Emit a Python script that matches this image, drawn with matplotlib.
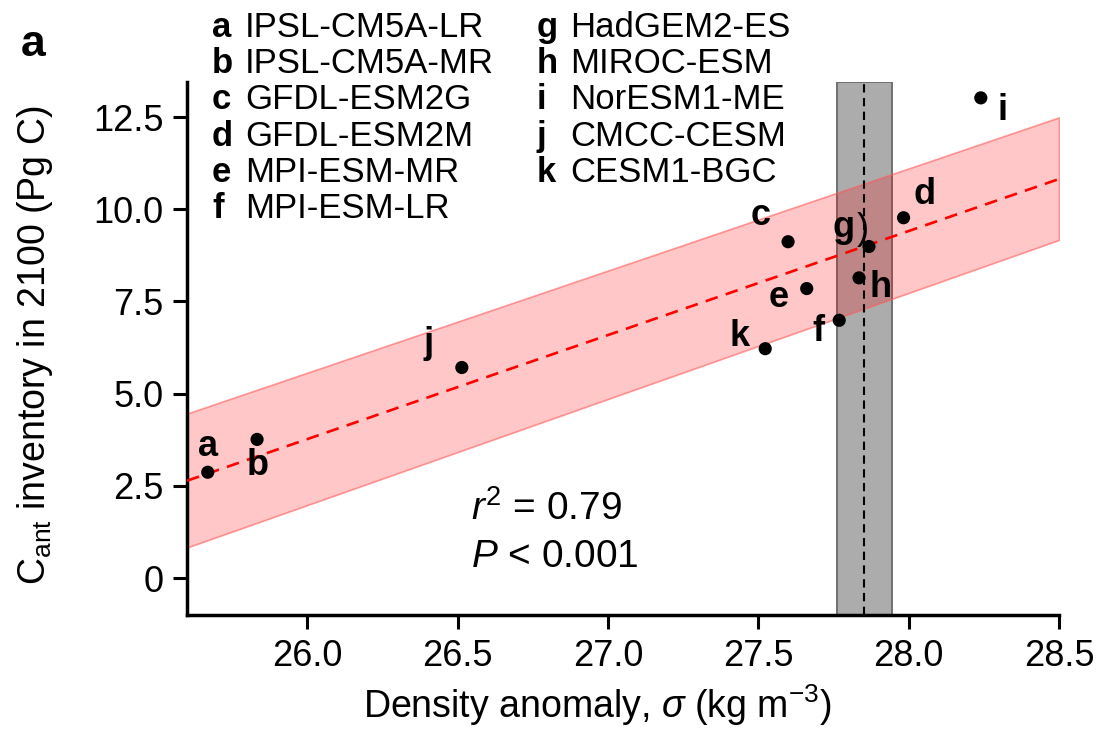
import numpy as np
import matplotlib
matplotlib.use("Agg")
import matplotlib.pyplot as plt

plt.rcParams['font.family'] = ['Liberation Sans', 'DejaVu Sans']
plt.rcParams['mathtext.fontset'] = 'custom'
plt.rcParams['mathtext.rm'] = 'Liberation Sans'
plt.rcParams['mathtext.it'] = 'Liberation Sans:italic'

# --- data ---
letters = ['a', 'b', 'c', 'd', 'e', 'f', 'g', 'h', 'i', 'j', 'k']
models = ['IPSL-CM5A-LR', 'IPSL-CM5A-MR', 'GFDL-ESM2G', 'GFDL-ESM2M', 'MPI-ESM-MR',
          'MPI-ESM-LR', 'HadGEM2-ES', 'MIROC-ESM', 'NorESM1-ME', 'CMCC-CESM', 'CESM1-BGC']
sigma = [25.669, 25.833, 27.599, 27.983, 27.661, 27.769, 27.868, 27.835, 28.240, 26.514, 27.523]
cant = [2.87, 3.76, 9.12, 9.77, 7.85, 6.99, 8.99, 8.14, 13.02, 5.71, 6.22]

fit_x = [25.6, 28.5]
fit_y = [2.64, 10.82]
band_lo = [0.83, 9.17]
band_hi = [4.46, 12.49]

obs_sigma = 27.851
obs_lo, obs_hi = 27.763, 27.943

# label baseline offsets from the dot, in pixels (dx, dy)
offsets = {'a': (0, 16), 'b': (1, -36), 'c': (-27, 17), 'd': (21, 14), 'e': (-28, -18),
           'f': (-21, -21), 'g': (-25, 10), 'h': (22, -19), 'i': (22, -22), 'j': (-33, 14),
           'k': (-26, 3)}

W, H = 1101, 739
fig = plt.figure(figsize=(W / 100, H / 100), dpi=100)
ax = fig.add_axes([187 / W, 1 - 615 / H, 872 / W, 533 / H])

ax.axvspan(obs_lo, obs_hi, facecolor='#acacac', edgecolor='#707070', lw=1.4, zorder=1)
ax.fill_between(fit_x, band_lo, band_hi, facecolor=(1, 0, 0, 0.22),
                edgecolor=(1, 0.35, 0.35, 0.6), lw=1.2, zorder=2)
ax.plot(fit_x, fit_y, color='red', ls=(0, (4.8, 3.2)), lw=1.9, zorder=3)
ax.axvline(obs_sigma, color='black', ls=(0, (4, 2.6)), lw=1.5, zorder=3)
ax.scatter(sigma, cant, s=90, color='black', zorder=5, edgecolors='none')

for L, x, y in zip(letters, sigma, cant):
    dx, dy = offsets[L]
    ax.annotate(L, (x, y), xytext=(dx, dy), textcoords='offset pixels',
                ha='center', va='baseline', fontsize=26, fontweight='bold', zorder=6)
ax.annotate(')', (sigma[6], cant[6]), xytext=(-6, 8), textcoords='offset pixels',
            ha='center', va='baseline', fontsize=26, zorder=6)

ax.text(26.544, 1.87, r'$r^2$ = 0.79', fontsize=28, va='center', ha='left')
ax.text(26.544, 0.57, r'$P$ < 0.001', fontsize=28, va='center', ha='left')

ax.set_xlim(25.6, 28.5)
ax.set_ylim(-1.0, 13.45)
ax.set_xticks([26.0, 26.5, 27.0, 27.5, 28.0, 28.5])
ax.set_yticks([0, 2.5, 5.0, 7.5, 10.0, 12.5])
ax.set_xticklabels(['26.0', '26.5', '27.0', '27.5', '28.0', '28.5'])
ax.set_yticklabels(['0', '2.5', '5.0', '7.5', '10.0', '12.5'])
ax.tick_params(direction='out', length=10, width=2.2, labelsize=26, pad=7)
for s in ['top', 'right']:
    ax.spines[s].set_visible(False)
for s in ['left', 'bottom']:
    ax.spines[s].set_linewidth(2.5)

fig.text(597 / W, 1 - 705 / H, r'Density anomaly, $\sigma$ (kg m$^{-3}$)',
         fontsize=27, ha='center', va='center')
fig.text(35 / W, 1 - 345 / H, r'C$_{\mathrm{ant}}$ inventory in 2100 (Pg C)',
         fontsize=27, ha='center', va='center', rotation=90)

# model key
for i, (L, m) in enumerate(zip(letters, models)):
    col, row = divmod(i, 6)
    xl = 212 if col == 0 else 537
    yp = 27.5 + row * 36.2
    fig.text(xl / W, 1 - yp / H, L, fontsize=25, fontweight='bold', va='center', ha='left')
    fig.text((xl + 33) / W, 1 - yp / H, m, fontsize=25, va='center', ha='left')

fig.text(33 / W, 1 - 45 / H, 'a', fontsize=32, fontweight='bold', va='center', ha='center')

fig.savefig('out.png', dpi=100)
